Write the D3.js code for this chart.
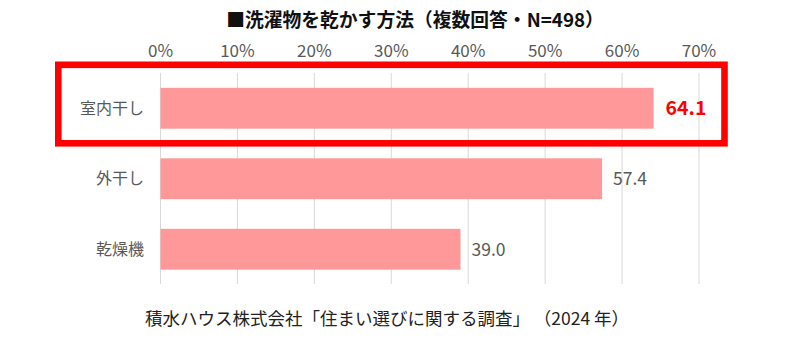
<!DOCTYPE html>
<html><head><meta charset="utf-8">
<script src="https://cdn.jsdelivr.net/npm/d3@7/dist/d3.min.js"></script>
<style>body{margin:0;background:#fff}svg{display:block}text{font-family:"Noto Sans CJK JP","Noto Sans",sans-serif}</style>
</head><body><svg id="c" width="794" height="345"></svg>
<script>
const categories = ["室内干し", "外干し", "乾燥機"];
const values = [64.1, 57.4, 39.0];
const ticks = [0, 10, 20, 30, 40, 50, 60, 70];
const title = "■洗濯物を乾かす方法（複数回答・N=498）";
const source = "積水ハウス株式会社「住まい選びに関する調査」 （2024 年）";

const svg = d3.select("#c");
const x = d3.scaleLinear().domain([0, 70]).range([160.5, 699]);
const y = d3.scaleBand().domain(categories).range([73, 284.5]).paddingInner(0.42).paddingOuter(0.21);

svg.append("text").attr("x", 415).attr("y", 27).attr("text-anchor", "middle")
  .attr("font-size", 18.8).attr("font-weight", "bold").attr("fill", "#111").text(title);

const g = svg.append("g");
g.selectAll("line.grid").data(ticks).join("line").attr("class","grid")
  .attr("x1", d => x(d)).attr("x2", d => x(d)).attr("y1", 73).attr("y2", 284)
  .attr("stroke", "#d9d9d9").attr("stroke-width", 1);

g.selectAll("text.tick").data(ticks).join("text").attr("class","tick")
  .attr("x", d => x(d)).attr("y", 57).attr("text-anchor", "middle")
  .attr("font-size", 17).attr("fill", "#595959").text(d => d + "%");

g.selectAll("rect.bar").data(values).join("rect").attr("class","bar")
  .attr("x", x(0)).attr("y", (d,i) => y(categories[i]))
  .attr("width", d => x(d) - x(0)).attr("height", y.bandwidth())
  .attr("fill", "#ff9999");

g.selectAll("text.cat").data(categories).join("text").attr("class","cat")
  .attr("x", 144).attr("y", d => y(d) + y.bandwidth()/2).attr("dy", "0.35em")
  .attr("text-anchor", "end").attr("font-size", 16).attr("fill", "#595959").text(d => d);

g.selectAll("text.val").data(values).join("text").attr("class","val")
  .attr("x", (d,i) => x(d) + (i === 0 ? 12 : 11))
  .attr("y", (d,i) => y(categories[i]) + y.bandwidth()/2).attr("dy", "0.36em")
  .attr("font-size", (d,i) => i === 0 ? 19.5 : 17.5)
  .attr("font-weight", (d,i) => i === 0 ? "bold" : "normal")
  .attr("fill", (d,i) => i === 0 ? "#ff0000" : "#595959")
  .text(d => d.toFixed(1));

const b0 = y(categories[0]);
svg.append("rect").attr("x", 58.3).attr("y", b0 - 23).attr("width", 666.2).attr("height", 78.5)
  .attr("fill", "none").attr("stroke", "#ff0000").attr("stroke-width", 6.6);

svg.append("text").attr("x", 387).attr("y", 325).attr("text-anchor", "middle")
  .attr("font-size", 17.5).attr("fill", "#222").text(source);
</script></body></html>
